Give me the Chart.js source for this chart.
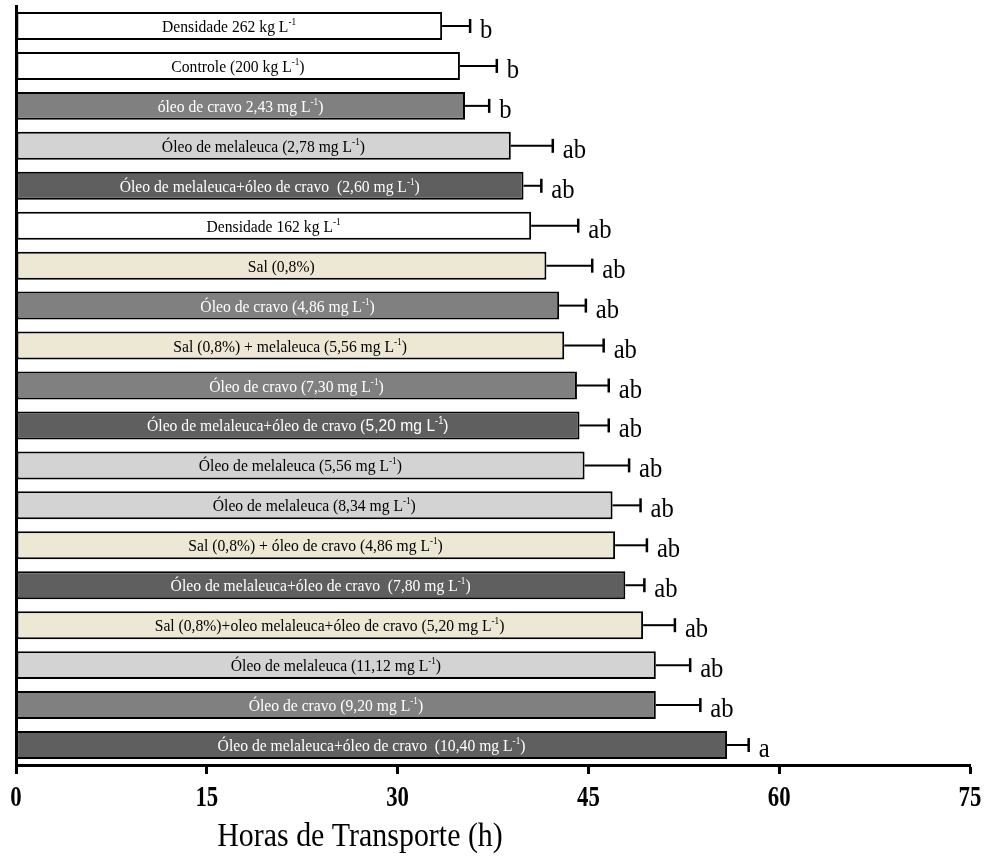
<!DOCTYPE html>
<html>
<head>
<meta charset="utf-8">
<script src="https://cdn.jsdelivr.net/npm/chart.js@4.4.1/dist/chart.umd.min.js"></script>
<style>
  html, body { margin: 0; padding: 0; background: #ffffff; }
  #wrap { width: 985px; height: 861px; }
</style>
</head>
<body>
<div id="wrap"><canvas id="c" width="985" height="861"></canvas></div>
<script>
// ---- data (top to bottom) ----
const categories = [
  "Densidade 262 kg L^-1",
  "Controle (200 kg L^-1)",
  "óleo de cravo 2,43 mg L^-1)",
  "Óleo de melaleuca (2,78 mg L^-1)",
  "Óleo de melaleuca+óleo de cravo  (2,60 mg L^-1)",
  "Densidade 162 kg L^-1",
  "Sal (0,8%)",
  "Óleo de cravo (4,86 mg L^-1)",
  "Sal (0,8%) + melaleuca (5,56 mg L^-1)",
  "Óleo de cravo (7,30 mg L^-1)",
  "Óleo de melaleuca+óleo de cravo (§5,20 mg L^-1)",
  "Óleo de melaleuca (5,56 mg L^-1)",
  "Óleo de melaleuca (8,34 mg L^-1)",
  "Sal (0,8%) + óleo de cravo (4,86 mg L^-1)",
  "Óleo de melaleuca+óleo de cravo  (7,80 mg L^-1)",
  "Sal (0,8%)+oleo melaleuca+óleo de cravo (5,20 mg L^-1)",
  "Óleo de melaleuca (11,12 mg L^-1)",
  "Óleo de cravo (9,20 mg L^-1)",
  "Óleo de melaleuca+óleo de cravo  (10,40 mg L^-1)"
];
const groups = [
  "densidade", "densidade", "cravo", "melaleuca", "mistura", "densidade",
  "sal", "cravo", "sal", "cravo", "mistura", "melaleuca", "melaleuca",
  "sal", "mistura", "sal", "melaleuca", "cravo", "mistura"
];
const hours = [33.5, 34.9, 35.3, 38.9, 39.9, 40.5, 41.7, 42.7, 43.1, 44.1,
               44.3, 44.7, 46.9, 47.1, 47.9, 49.3, 50.3, 50.3, 55.9];
const errors = [2.2, 2.9, 1.9, 3.3, 1.4, 3.7, 3.6, 2.1, 3.1, 2.5,
                2.3, 3.5, 2.2, 2.5, 1.5, 2.5, 2.7, 3.5, 1.7];
const letters = ["b", "b", "b", "ab", "ab", "ab", "ab", "ab", "ab", "ab",
                 "ab", "ab", "ab", "ab", "ab", "ab", "ab", "ab", "a"];
const xTicks = [0, 15, 30, 45, 60, 75];
const axisTitle = "Horas de Transporte (h)";

// ---- styles ----
const groupFill = {
  densidade: "#ffffff",
  cravo: "#808080",
  melaleuca: "#d3d3d3",
  mistura: "#5f5f5f",
  sal: "#ece8d4"
};
const groupText = {
  densidade: "#000000",
  cravo: "#ffffff",
  melaleuca: "#000000",
  mistura: "#ffffff",
  sal: "#000000"
};
const SERIF = '"Liberation Serif", "Times New Roman", serif';
const SANS = '"Liberation Sans", Arial, sans-serif';

function parseLabel(s) {
  const parts = s.split(/(\^-1|§)/);
  const segs = [];
  let sans = false;
  for (const p of parts) {
    if (p === "") continue;
    if (p === "§") { sans = true; continue; }
    if (p === "^-1") { segs.push({ t: "-1", sup: true, sans }); continue; }
    segs.push({ t: p, sup: false, sans });
  }
  return segs;
}

function segFont(seg) {
  const fam = seg.sans ? SANS : SERIF;
  const size = seg.sup ? 10 : 17;
  return size + "px " + fam;
}

// draw text horizontally condensed (reference glyphs are narrow and tall)
function condensedText(ctx, text, x, y, sx) {
  ctx.save();
  ctx.translate(x, y);
  ctx.scale(sx, 1);
  ctx.fillText(text, 0, 0);
  ctx.restore();
}

const overlay = {
  id: "overlay",
  afterDatasetsDraw(chart) {
    const ctx = chart.ctx;
    const xs = chart.scales.x;
    const meta = chart.getDatasetMeta(0);
    ctx.save();
    meta.data.forEach((bar, i) => {
      const y = bar.y;
      const xv = xs.getPixelForValue(hours[i]);
      const xe = xs.getPixelForValue(hours[i] + errors[i]);
      // error bar
      ctx.strokeStyle = "#000";
      ctx.lineWidth = 2;
      ctx.beginPath();
      ctx.moveTo(xv, y);
      ctx.lineTo(xe, y);
      ctx.stroke();
      ctx.lineWidth = 2.5;
      ctx.beginPath();
      ctx.moveTo(xe, y - 7);
      ctx.lineTo(xe, y + 7);
      ctx.stroke();
      // significance letter
      ctx.fillStyle = "#000";
      ctx.font = "28px " + SERIF;
      ctx.textAlign = "left";
      ctx.textBaseline = "alphabetic";
      condensedText(ctx, letters[i], xe + 10, y + 12, 0.88);
      // bar label
      const sx = 0.92;
      const segs = parseLabel(categories[i]);
      let w = 0;
      segs.forEach(sg => { ctx.font = segFont(sg); sg.w = ctx.measureText(sg.t).width * sx; w += sg.w; });
      const cx = (xs.getPixelForValue(0) + xv) / 2;
      let x = cx - w / 2;
      ctx.fillStyle = groupText[groups[i]];
      segs.forEach(sg => {
        ctx.font = segFont(sg);
        condensedText(ctx, sg.t, x, sg.sup ? y - 1 : y + 6, sx);
        x += sg.w;
      });
    });
    // x tick labels
    ctx.fillStyle = "#000";
    ctx.font = "bold 30px " + SERIF;
    ctx.textAlign = "center";
    ctx.textBaseline = "alphabetic";
    xs.ticks.forEach(t => {
      condensedText(ctx, String(t.value), xs.getPixelForValue(t.value), 806, 0.76);
    });
    // axis title
    ctx.font = "34px " + SERIF;
    ctx.textAlign = "center";
    condensedText(ctx, axisTitle, 360, 846, 0.88);
    ctx.restore();
  }
};

new Chart(document.getElementById("c"), {
  type: "bar",
  data: {
    labels: categories,
    datasets: [{
      data: hours,
      backgroundColor: groups.map(g => groupFill[g]),
      borderColor: "#000000",
      borderWidth: 2,
      borderSkipped: false,
      categoryPercentage: 1.0,
      barPercentage: 0.7
    }]
  },
  options: {
    indexAxis: "y",
    responsive: false,
    animation: false,
    devicePixelRatio: 1,
    layout: { padding: { top: 6, right: 15, left: 0, bottom: 0 } },
    plugins: { legend: { display: false }, tooltip: { enabled: false } },
    scales: {
      x: {
        type: "linear",
        min: 0, max: 75,
        afterBuildTicks: s => { s.ticks = xTicks.map(v => ({ value: v })); },
        afterFit: s => { s.height = 96; },
        grid: { display: true, drawOnChartArea: false, tickLength: 9, tickWidth: 3, tickColor: "#000" },
        border: { display: true, color: "#000", width: 3 },
        ticks: { display: false }
      },
      y: {
        type: "category",
        afterFit: s => { s.width = 16; },
        grid: { display: false },
        border: { display: true, color: "#000", width: 3 },
        ticks: { display: false }
      }
    }
  },
  plugins: [overlay]
});
</script>
</body>
</html>
